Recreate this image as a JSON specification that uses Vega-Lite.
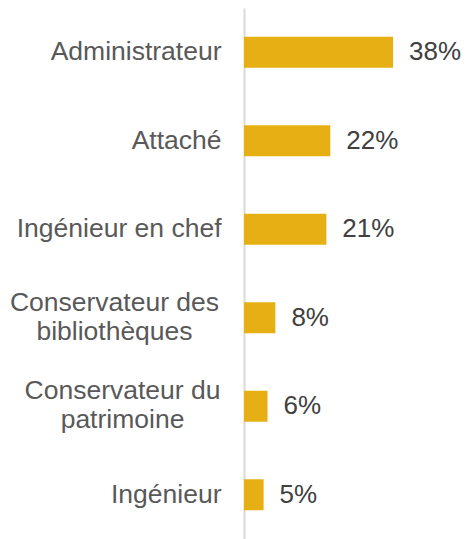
{
  "$schema": "https://vega.github.io/schema/vega-lite/v6.json",
  "autosize": "none",
  "width": 222,
  "height": 531,
  "padding": {"left": 244, "top": 8, "right": 0, "bottom": 0},
  "background": "white",
  "config": {"view": {"stroke": null}, "font": "Liberation Sans"},
  "data": {
    "values": [
      {"categorie": "Administrateur", "part": 0.38},
      {"categorie": "Attaché", "part": 0.22},
      {"categorie": "Ingénieur en chef", "part": 0.21},
      {"categorie": "Conservateur des|bibliothèques", "part": 0.08},
      {"categorie": "Conservateur du|patrimoine", "part": 0.06},
      {"categorie": "Ingénieur", "part": 0.05}
    ]
  },
  "encoding": {
    "y": {
      "field": "categorie",
      "type": "nominal",
      "sort": null,
      "scale": {"paddingInner": 0.65, "paddingOuter": 0.325},
      "axis": {
        "title": null,
        "ticks": false,
        "labelAlign": {"condition": {"test": "indexof(datum.value, '|') >= 0", "value": "center"}, "value": "right"},
        "labelOffset": {"condition": {"test": "indexof(datum.value, '|') >= 0", "value": -15}, "value": 0},
        "labelPadding": {"condition": [
          {"test": "datum.value == 'Conservateur des|bibliothèques'", "value": 130},
          {"test": "datum.value == 'Conservateur du|patrimoine'", "value": 122}
        ], "value": 23},
        "labelFontSize": 26.5,
        "labelLimit": 300,
        "labelColor": "#595959",
        "labelFont": "Liberation Sans",
        "labelLineHeight": 29,
        "labelExpr": "split(datum.label, '|')",
        "domainColor": "#d9d9d9",
        "domainWidth": 2
      }
    },
    "x": {
      "field": "part",
      "type": "quantitative",
      "scale": {"domain": [0, 0.566], "nice": false},
      "axis": null
    }
  },
  "layer": [
    {"mark": {"type": "bar", "color": "#E6B014"}},
    {
      "mark": {"type": "text", "align": "left", "baseline": "middle", "dx": 16, "fontSize": 26, "color": "#404040", "font": "Liberation Sans"},
      "encoding": {"text": {"field": "part", "type": "quantitative", "format": ".0%"}}
    }
  ]
}
